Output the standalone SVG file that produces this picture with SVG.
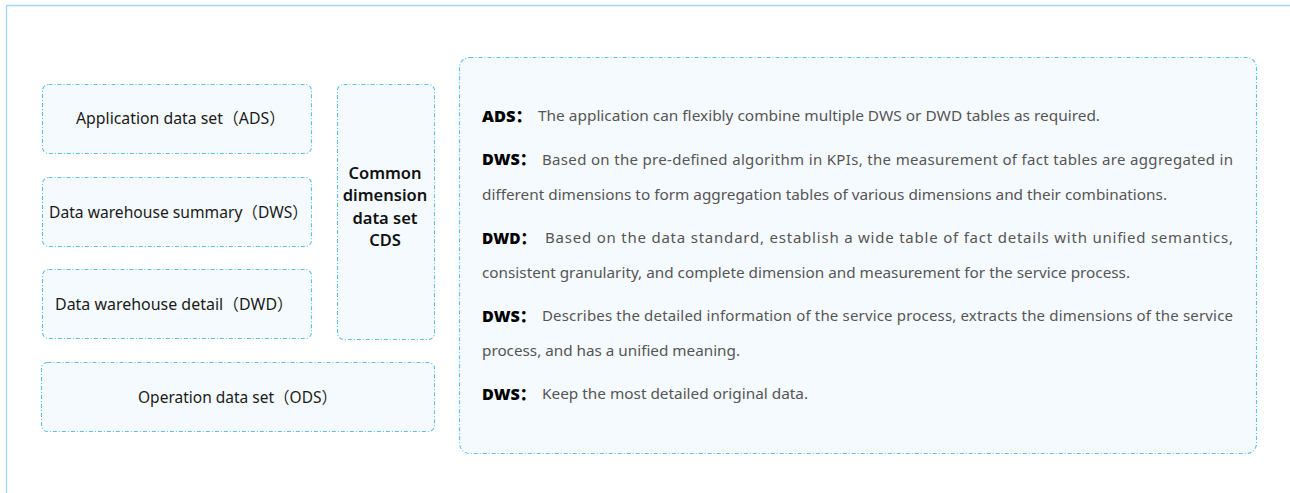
<svg xmlns="http://www.w3.org/2000/svg" width="1290" height="493" viewBox="0 0 1290 493">
<style>
.box{fill:#f5fafe;stroke:#5cc0ee;stroke-width:1.1;stroke-dasharray:4 2 1 2}
.frame{stroke:#a2d6f4;stroke-width:1.3;fill:none}
.lt{font-family:"Noto Sans","Noto Sans CJK SC",sans-serif;font-size:16px;fill:#1a1a1a;text-anchor:middle}
.cds{font-family:"Noto Sans","Noto Sans CJK SC",sans-serif;font-size:16.5px;font-weight:600;fill:#111;text-anchor:middle}
.lb{font-family:"Noto Sans","Noto Sans CJK SC",sans-serif;font-size:16px;font-weight:900;fill:#000}
.bt{font-family:"Noto Sans","Noto Sans CJK SC",sans-serif;font-size:15px;fill:#555}
</style>
<g id="frame">
<line class="frame" x1="6" y1="5.5" x2="1290" y2="5.5"/>
<line class="frame" x1="6.5" y1="5" x2="6.5" y2="493"/>
</g>
<g id="connectors"></g>
<g id="ads">
<rect class="box" x="42.5" y="84.5" width="269" height="69" rx="6"/>
<text class="lt" x="180.5" y="124" textLength="209" lengthAdjust="spacingAndGlyphs">Application data set（ADS）</text>
</g>
<g id="dws">
<rect class="box" x="42.5" y="177.5" width="269" height="69" rx="6"/>
<text class="lt" x="178.5" y="217.5" textLength="259" lengthAdjust="spacingAndGlyphs">Data warehouse summary（DWS）</text>
</g>
<g id="dwd">
<rect class="box" x="42.5" y="269.5" width="269" height="69" rx="6"/>
<text class="lt" x="174" y="309.5" textLength="238" lengthAdjust="spacingAndGlyphs">Data warehouse detail（DWD）</text>
</g>
<g id="cds">
<rect class="box" x="337.5" y="84.5" width="97" height="255" rx="6"/>
<text class="cds" x="385" y="179">Common</text>
<text class="cds" x="385" y="201">dimension</text>
<text class="cds" x="385" y="224">data set</text>
<text class="cds" x="385" y="246">CDS</text>
</g>
<g id="ods">
<rect class="box" x="41.5" y="362.5" width="393" height="69" rx="6"/>
<text class="lt" x="237.5" y="402.5" textLength="199" lengthAdjust="spacingAndGlyphs">Operation data set（ODS）</text>
</g>
<g id="desc">
<rect class="box" x="459.5" y="57.5" width="797" height="396" rx="10"/>
<text class="lb" x="482" y="121.5" textLength="50" lengthAdjust="spacingAndGlyphs">ADS：</text>
<text class="bt" x="538" y="121" textLength="562" lengthAdjust="spacingAndGlyphs">The application can flexibly combine multiple DWS or DWD tables as required.</text>
<text class="lb" x="482" y="164.5" textLength="54" lengthAdjust="spacingAndGlyphs">DWS：</text>
<text class="bt" x="542" y="164.5" textLength="691" lengthAdjust="spacing">Based on the pre-defined algorithm in KPIs, the measurement of fact tables are aggregated in</text>
<text class="bt" x="482" y="200" textLength="685" lengthAdjust="spacingAndGlyphs">different dimensions to form aggregation tables of various dimensions and their combinations.</text>
<text class="lb" x="482" y="243.5" textLength="54" lengthAdjust="spacingAndGlyphs">DWD：</text>
<text class="bt" x="545" y="243" textLength="688" lengthAdjust="spacing">Based on the data standard, establish a wide table of fact details with unified semantics,</text>
<text class="bt" x="482" y="278" textLength="648" lengthAdjust="spacingAndGlyphs">consistent granularity, and complete dimension and measurement for the service process.</text>
<text class="lb" x="482" y="321.5" textLength="54" lengthAdjust="spacingAndGlyphs">DWS：</text>
<text class="bt" x="542" y="321" textLength="691" lengthAdjust="spacing">Describes the detailed information of the service process, extracts the dimensions of the service</text>
<text class="bt" x="482" y="356" textLength="258" lengthAdjust="spacingAndGlyphs">process, and has a unified meaning.</text>
<text class="lb" x="482" y="399.5" textLength="54" lengthAdjust="spacingAndGlyphs">DWS：</text>
<text class="bt" x="542" y="399" textLength="266" lengthAdjust="spacingAndGlyphs">Keep the most detailed original data.</text>
</g>
</svg>
